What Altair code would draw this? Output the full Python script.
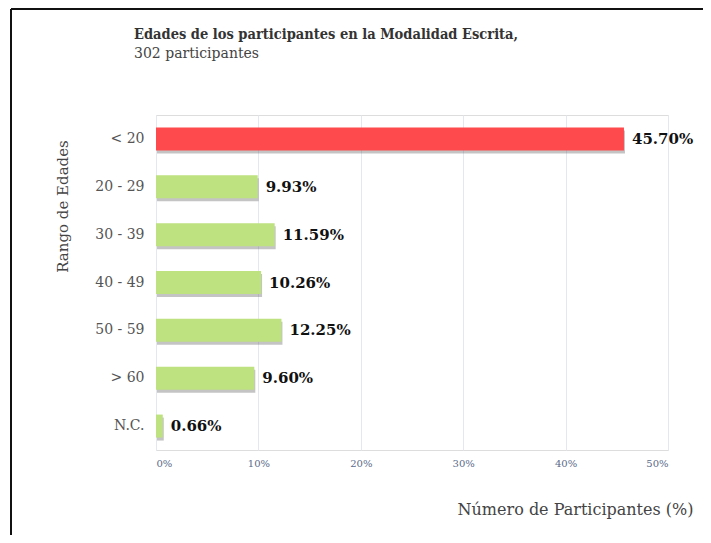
import altair as alt
import pandas as pd

categories = ["< 20", "20 - 29", "30 - 39", "40 - 49", "50 - 59", "> 60", "N.C."]
values = [45.70, 9.93, 11.59, 10.26, 12.25, 9.60, 0.66]
bar_colors = ["#FF4A4D", "#BEE27F", "#BEE27F", "#BEE27F", "#BEE27F", "#BEE27F", "#BEE27F"]
x_ticks = [0, 10, 20, 30, 40, 50]

df = pd.DataFrame({"cat": categories, "value": values, "color": bar_colors})

FONT = "'DejaVu Serif', serif"
TFONT = "'DejaVu Serif Condensed', 'DejaVu Serif', serif"

y_enc = alt.Y("cat:N", sort=categories,
              scale=alt.Scale(paddingInner=0.5, paddingOuter=0.25),
              axis=alt.Axis(title="Rango de Edades", labelFontSize=14, labelColor="#555555",
                            labelPadding=12, ticks=False, domain=False, grid=False,
                            titleFontSize=15, titleFontWeight="normal", titleColor="#444444",
                            titleX=-94, titleY=91, titleAngle=-90, titleBaseline="middle",
                            titleAlign="center", labelFont=FONT, titleFont=FONT))
x_enc = alt.X("value:Q", scale=alt.Scale(domain=[0, 50], nice=False),
              axis=alt.Axis(values=x_ticks, labelExpr="datum.value + '%'", labelFontSize=10,
                            labelColor="#5B6B8A", labelPadding=8, ticks=False, domain=False,
                            grid=True, gridColor="#E4E7EF", gridWidth=1,
                            title="Número de Participantes (%)", titleFontSize=16,
                            titleFontWeight="normal", titleColor="#444444",
                            titleX=537, titleY=59, titleAlign="right", titleBaseline="middle",
                            labelFont=FONT, titleFont=FONT))

shadow = alt.Chart(df).mark_bar(height=23, color="#555555", opacity=0.35,
                                xOffset=1, x2Offset=3, yOffset=3).encode(
    x=alt.X("value:Q", scale=alt.Scale(domain=[0, 50], nice=False)),
    y=alt.Y("cat:N", sort=categories),
)

bars = alt.Chart(df).mark_bar(height=23).encode(
    x=x_enc, y=y_enc,
    color=alt.Color("color:N", scale=None),
)

labels = alt.Chart(df).transform_calculate(
    lab="format(datum.value, '.2f') + '%'"
).mark_text(align="left", baseline="middle", dx=8, fontSize=15, fontWeight="bold",
            color="#111111", font=FONT).encode(
    x="value:Q", y=alt.Y("cat:N", sort=categories), text="lab:N"
)

frame_left = alt.Chart(df).mark_rule(color="#111111", strokeWidth=2).encode(
    x=alt.value(-145), y=alt.value(-106), y2=alt.value(500))
frame_top = alt.Chart(df).mark_rule(color="#111111", strokeWidth=2).encode(
    x=alt.value(-145), x2=alt.value(600), y=alt.value(-106))

chart = alt.layer(shadow, bars, labels, frame_left, frame_top).properties(
    width=512, height=335,
    title=alt.TitleParams(
        text="Edades de los participantes en la Modalidad Escrita,",
        subtitle="302 participantes",
        anchor="start", dx=124, offset=-54, font=TFONT, fontSize=14.5, fontWeight="bold",
        color="#333333", subtitleFont=FONT, subtitleFontSize=14, subtitleColor="#444444",
        subtitlePadding=5,
    ),
    autosize=alt.AutoSizeParams(type="none"),
    padding={"left": 148, "top": 107, "right": 35, "bottom": 85},
).configure_view(stroke=None).configure(background="white")

chart.save("out.html", embed_options={"renderer": "svg", "actions": False})
